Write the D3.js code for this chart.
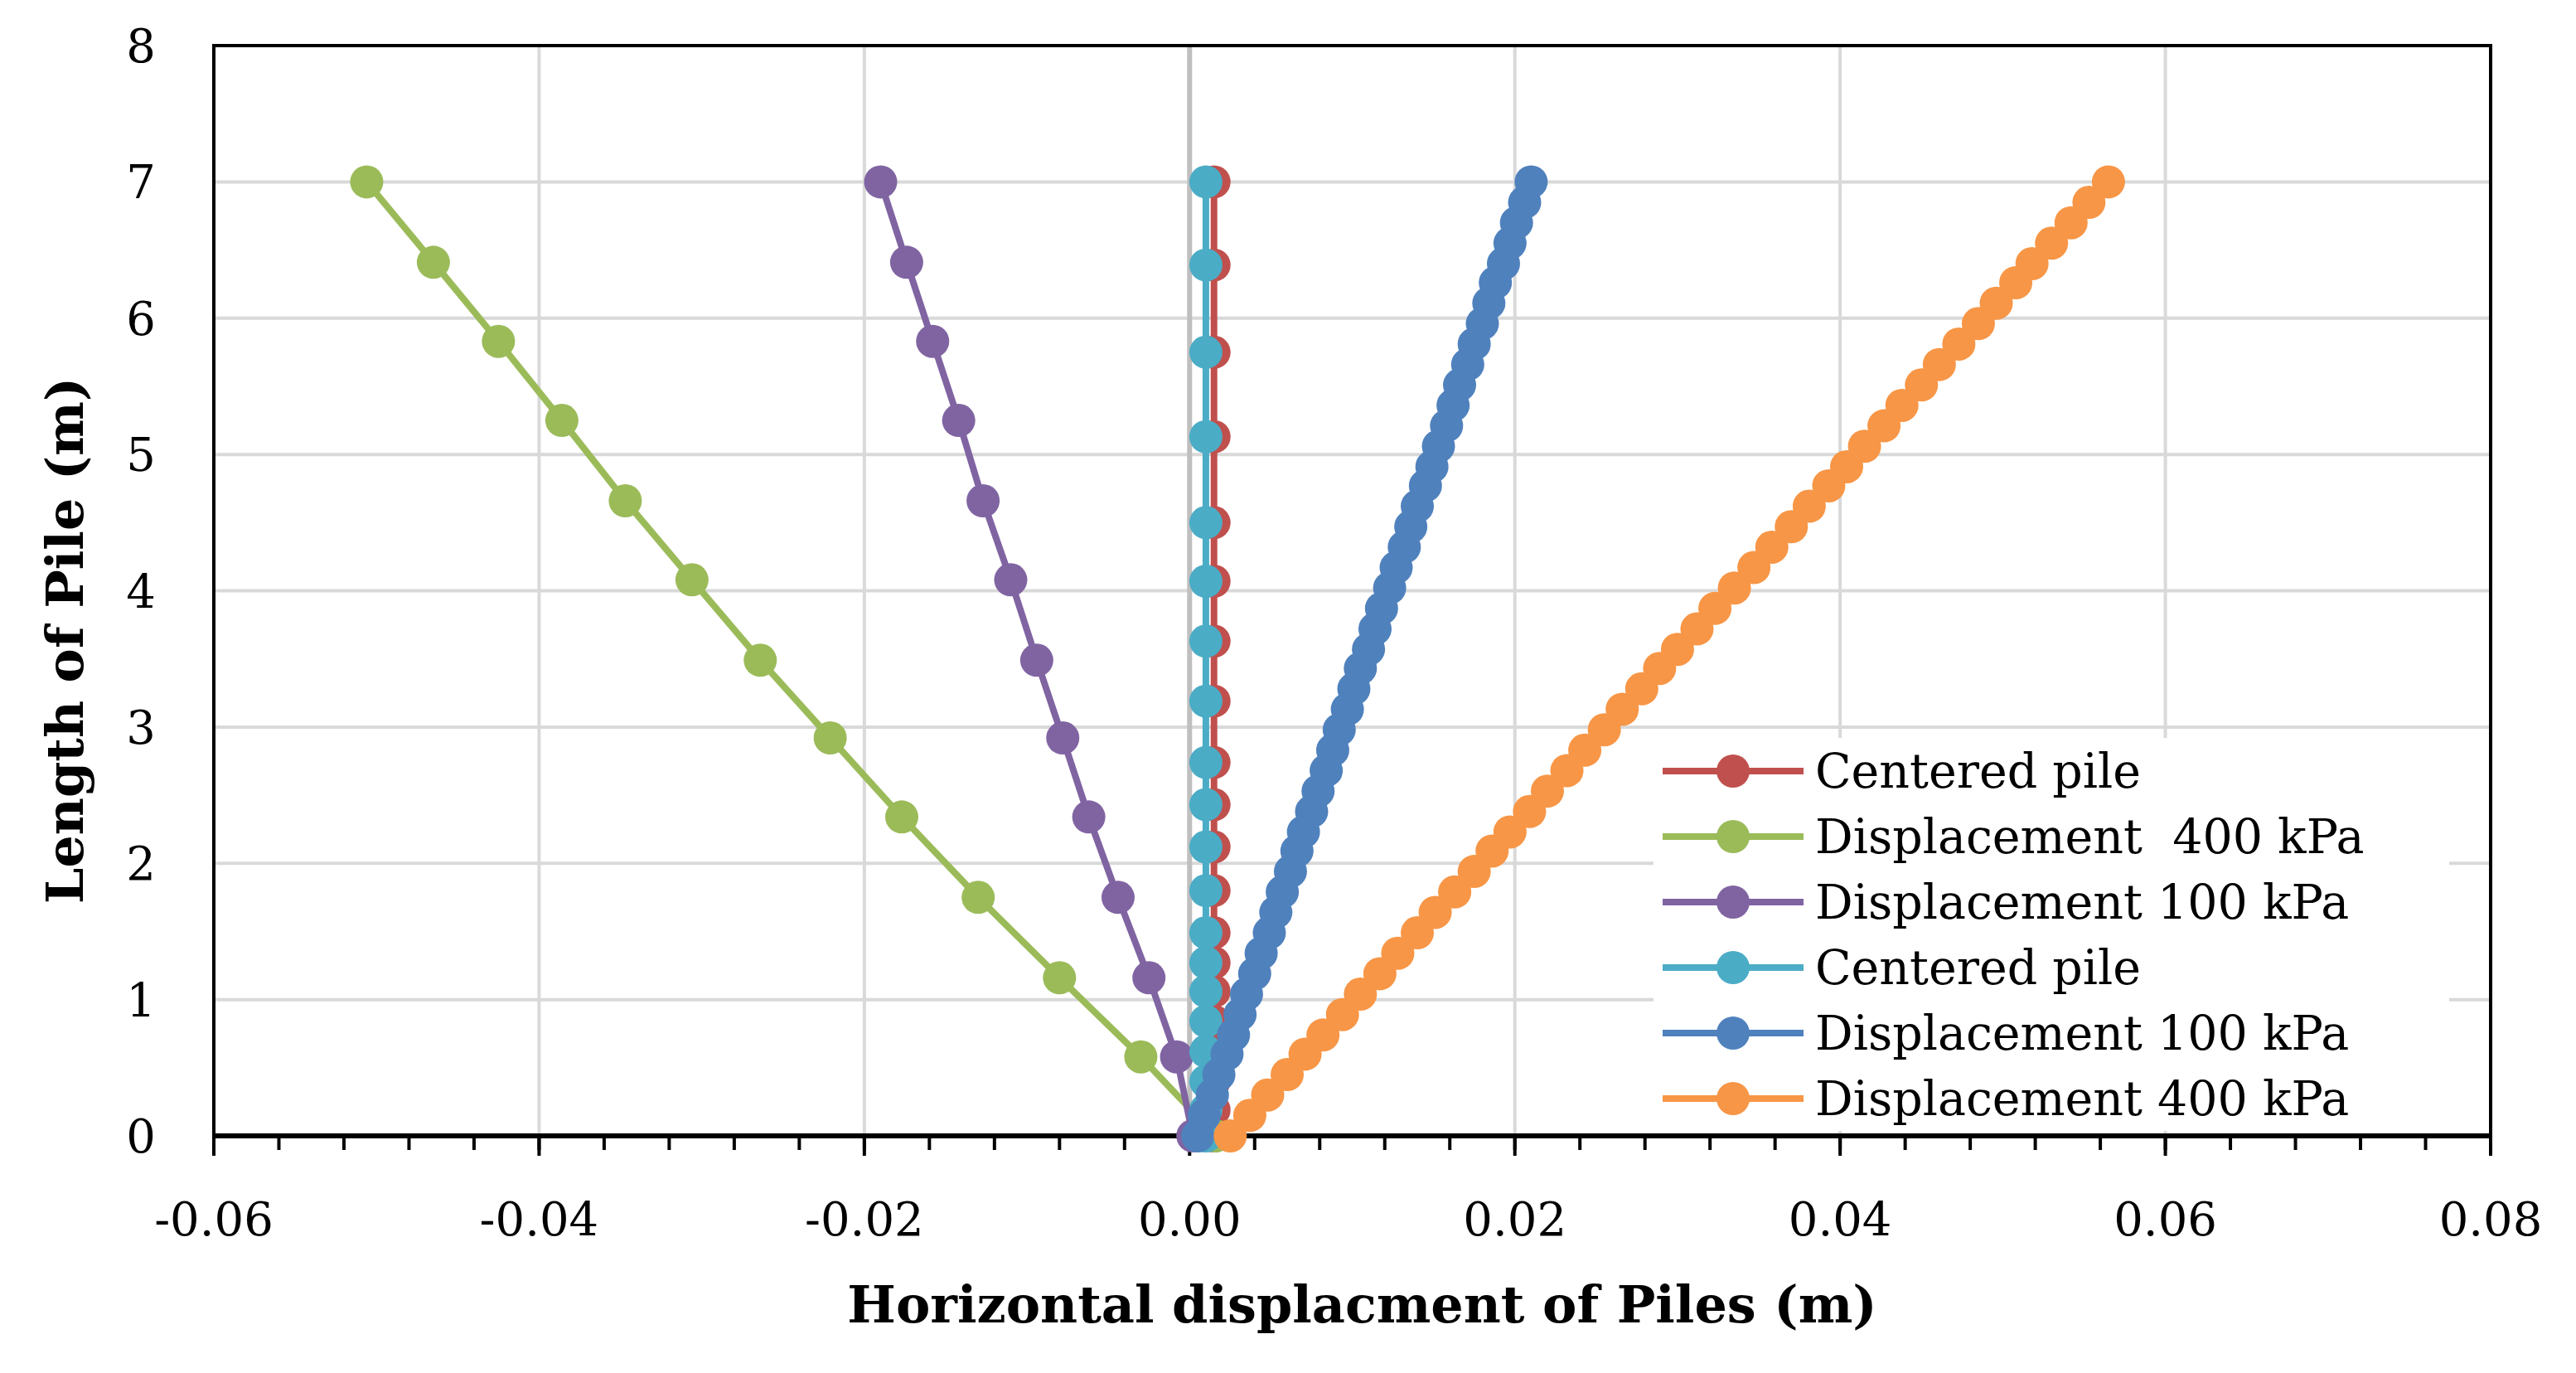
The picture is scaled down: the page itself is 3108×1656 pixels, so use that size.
<!DOCTYPE html>
<html><head><meta charset="utf-8">
<script src="https://cdn.jsdelivr.net/npm/d3@7"></script>
<style>body{margin:0;background:#fff}</style>
</head><body>
<script>
var seriesNames = ["Centered pile", "Displacement  400 kPa", "Displacement 100 kPa", "Centered pile", "Displacement 100 kPa", "Displacement 400 kPa"];
var seriesColors = ["#C0504D", "#9BBB59", "#8064A2", "#4BACC6", "#4F81BD", "#F79646"];
var xTicks = [-0.06, -0.04, -0.02, 0.00, 0.02, 0.04, 0.06, 0.08];
var yTicks = [0, 1, 2, 3, 4, 5, 6, 7, 8];

// depths for the centered piles
var centerDepth = [0, 0.19, 0.40, 0.62, 0.84, 1.06, 1.27, 1.49, 1.80, 2.12, 2.43, 2.74, 3.19, 3.63, 4.07, 4.50, 5.13, 5.75, 6.39, 7.00];
var redX = [0.0015, 0.0015, 0.0015, 0.0015, 0.0015, 0.0015, 0.0015, 0.0015, 0.0015, 0.0015, 0.0015, 0.0015, 0.0015, 0.0015, 0.0015, 0.0015, 0.0015, 0.0015, 0.0015, 0.0015];
var cyanX = [0.0010, 0.0010, 0.0010, 0.0010, 0.0010, 0.0010, 0.0010, 0.0010, 0.0010, 0.0010, 0.0010, 0.0010, 0.0010, 0.0010, 0.0010, 0.0010, 0.0010, 0.0010, 0.0010, 0.0010];

// left side piles
var leftDepth = [0, 0.58, 1.16, 1.75, 2.34, 2.92, 3.49, 4.08, 4.66, 5.25, 5.83, 6.41, 7.00];
var green400X = [0.0016, -0.0030, -0.0080, -0.0130, -0.0177, -0.0221, -0.0264, -0.0306, -0.0347, -0.0386, -0.0425, -0.0465, -0.0506];
var purple100X = [0.0002, -0.0008, -0.0025, -0.0044, -0.0062, -0.0078, -0.0094, -0.0110, -0.0127, -0.0142, -0.0158, -0.0174, -0.0190];

// right side piles
var rightDepth = [0, 0.15, 0.30, 0.45, 0.60, 0.74, 0.89, 1.04, 1.19, 1.34, 1.49, 1.64, 1.79, 1.94, 2.09, 2.23, 2.38, 2.53, 2.68, 2.83, 2.98, 3.13, 3.28, 3.43, 3.57, 3.72, 3.87, 4.02, 4.17, 4.32, 4.47, 4.62, 4.77, 4.91, 5.06, 5.21, 5.36, 5.51, 5.66, 5.81, 5.96, 6.11, 6.26, 6.40, 6.55, 6.70, 6.85, 7.00];
var blue100X = [0.0005, 0.0009, 0.0014, 0.0018, 0.0023, 0.0027, 0.0031, 0.0035, 0.0040, 0.0044, 0.0049, 0.0053, 0.0057, 0.0062, 0.0066, 0.0070, 0.0075, 0.0079, 0.0084, 0.0088, 0.0092, 0.0097, 0.0101, 0.0105, 0.0110, 0.0114, 0.0118, 0.0123, 0.0127, 0.0132, 0.0136, 0.0140, 0.0145, 0.0149, 0.0153, 0.0158, 0.0162, 0.0166, 0.0171, 0.0175, 0.0180, 0.0184, 0.0188, 0.0193, 0.0197, 0.0201, 0.0206, 0.0210];
var orange400X = [0.0025, 0.0037, 0.0048, 0.0060, 0.0071, 0.0082, 0.0094, 0.0105, 0.0117, 0.0128, 0.0140, 0.0151, 0.0163, 0.0175, 0.0186, 0.0197, 0.0209, 0.0220, 0.0232, 0.0243, 0.0255, 0.0266, 0.0278, 0.0289, 0.0300, 0.0312, 0.0323, 0.0335, 0.0347, 0.0358, 0.0370, 0.0381, 0.0393, 0.0404, 0.0415, 0.0427, 0.0438, 0.0450, 0.0461, 0.0473, 0.0485, 0.0496, 0.0508, 0.0518, 0.0530, 0.0542, 0.0553, 0.0565];

var series = [
  {x: redX, y: centerDepth},
  {x: green400X, y: leftDepth},
  {x: purple100X, y: leftDepth},
  {x: cyanX, y: centerDepth},
  {x: blue100X, y: rightDepth},
  {x: orange400X, y: rightDepth}
];

var W = 3108, H = 1656;
var m = {left: 258, right: 3005, top: 55, bottom: 1370};
var font = "'DejaVu Serif', serif";

var svg = d3.select("body").append("svg")
  .attr("width", W).attr("height", H);

var x = d3.scaleLinear().domain([-0.06, 0.08]).range([m.left, m.right]);
var y = d3.scaleLinear().domain([0, 8]).range([m.bottom, m.top]);

// gridlines
svg.append("g").selectAll("line").data(yTicks.slice(1, -1)).enter().append("line")
  .attr("x1", m.left).attr("x2", m.right)
  .attr("y1", d => y(d)).attr("y2", d => y(d))
  .attr("stroke", "#d9d9d9").attr("stroke-width", 4);
svg.append("g").selectAll("line").data(xTicks.slice(1, -1)).enter().append("line")
  .attr("x1", d => x(d)).attr("x2", d => x(d))
  .attr("y1", m.top).attr("y2", m.bottom)
  .attr("stroke", d => d === 0 ? "#bfbfbf" : "#d9d9d9").attr("stroke-width", d => d === 0 ? 6 : 4);

// x axis minor + major ticks
var minor = d3.range(-0.06, 0.0801, 0.004);
svg.append("g").selectAll("line").data(minor).enter().append("line")
  .attr("x1", d => x(d)).attr("x2", d => x(d))
  .attr("y1", m.bottom).attr("y2", m.bottom + 17)
  .attr("stroke", "#000").attr("stroke-width", 4);
svg.append("g").selectAll("line").data(xTicks).enter().append("line")
  .attr("x1", d => x(d)).attr("x2", d => x(d))
  .attr("y1", m.bottom).attr("y2", m.bottom + 24)
  .attr("stroke", "#000").attr("stroke-width", 4);

// frame
svg.append("rect").attr("x", m.left).attr("y", m.top)
  .attr("width", m.right - m.left).attr("height", m.bottom - m.top)
  .attr("fill", "none").attr("stroke", "#000").attr("stroke-width", 4);
svg.append("line").attr("x1", m.left).attr("x2", m.right)
  .attr("y1", m.bottom).attr("y2", m.bottom)
  .attr("stroke", "#000").attr("stroke-width", 6);

// tick labels
svg.append("g").selectAll("text").data(xTicks).enter().append("text")
  .attr("x", d => x(d)).attr("y", 1490)
  .attr("text-anchor", "middle").style("font-family", font).style("font-size", "56px")
  .text(d => d3.format(".2f")(d).replace("−", "-"));
svg.append("g").selectAll("text").data(yTicks).enter().append("text")
  .attr("x", 188).attr("y", d => y(d) + 20)
  .attr("text-anchor", "end").style("font-family", font).style("font-size", "56px")
  .text(d => d);

// series
var line = d3.line().x(d => x(d[0])).y(d => y(d[1]));
series.forEach(function(s, i) {
  var pts = s.x.map((v, j) => [v, s.y[j]]);
  var g = svg.append("g");
  g.append("path").attr("d", line(pts)).attr("fill", "none")
    .attr("stroke", seriesColors[i]).attr("stroke-width", 8);
  g.selectAll("circle").data(pts).enter().append("circle")
    .attr("cx", d => x(d[0])).attr("cy", d => y(d[1])).attr("r", 20)
    .attr("fill", seriesColors[i]);
});

// legend
var lg = svg.append("g");
lg.append("rect").attr("x", 1995).attr("y", 890).attr("width", 960).attr("height", 474).attr("fill", "#fff");
seriesNames.forEach(function(n, i) {
  var yy = 930 + i * 79;
  lg.append("line").attr("x1", 2006).attr("x2", 2176).attr("y1", yy).attr("y2", yy)
    .attr("stroke", seriesColors[i]).attr("stroke-width", 8);
  lg.append("circle").attr("cx", 2091).attr("cy", yy).attr("r", 20).attr("fill", seriesColors[i]);
  lg.append("text").attr("x", 2190).attr("y", yy + 20)
    .style("font-family", font).style("font-size", "57px").style("white-space", "pre")
    .attr("xml:space", "preserve").text(n);
});

// axis titles
svg.append("text").attr("x", (m.left + m.right) / 2 + 12).attr("y", 1595)
  .attr("text-anchor", "middle").style("font-family", font).style("font-weight", "bold")
  .style("font-size", "62px").text("Horizontal displacment of Piles (m)");
svg.append("text").attr("transform", "translate(100," + ((m.top + m.bottom) / 2 + 60) + ") rotate(-90)")
  .attr("text-anchor", "middle").style("font-family", font).style("font-weight", "bold")
  .style("font-size", "62px").text("Length of Pile (m)");
</script>
</body></html>
